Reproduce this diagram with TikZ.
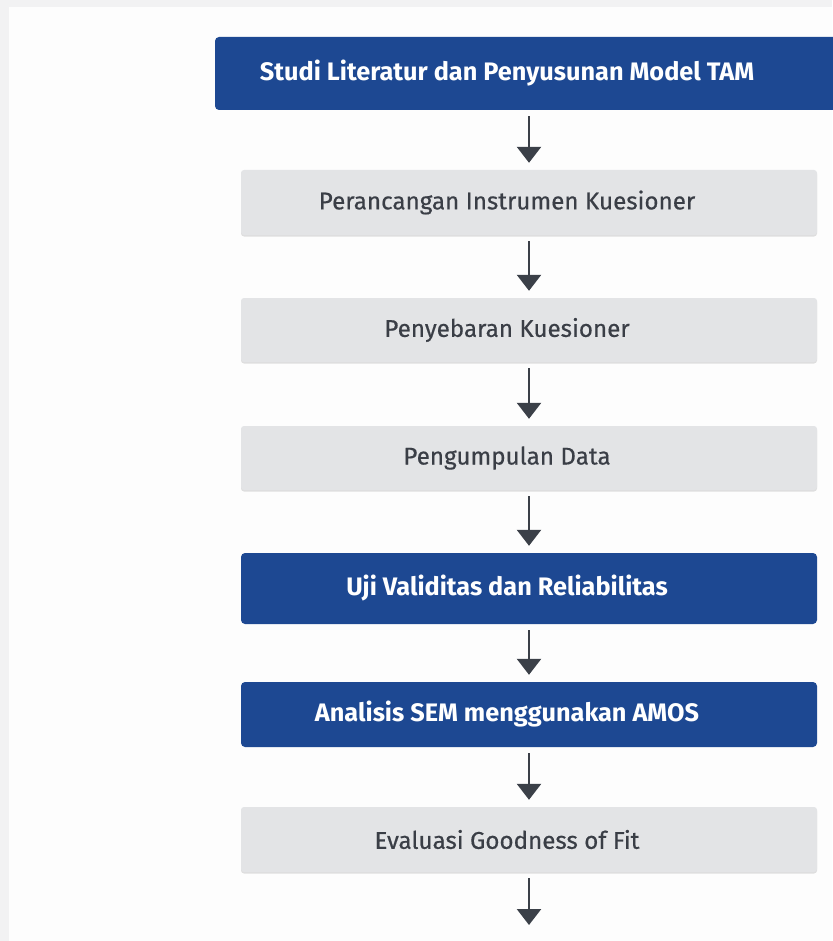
\documentclass[tikz,border=0pt]{standalone}
\usepackage{fontspec}
\setmainfont{Fira Sans}
\newfontfamily\greyfont{Fira Sans}[FakeBold=0.5]
\usepackage{tikz}
\usetikzlibrary{arrows.meta, shadows}

\definecolor{stepblue}{HTML}{1D4892}
\definecolor{stepgrey}{HTML}{E3E4E6}
\definecolor{steptext}{HTML}{3A3E46}
\definecolor{arrowgrey}{HTML}{3B4048}
\definecolor{pagegrey}{HTML}{F2F2F3}
\definecolor{pagewhite}{HTML}{FDFDFD}

\tikzset{
    box/.style={rectangle, minimum width=576pt, inner sep=0pt},
    bluetext/.style={text=white, xshift=-22pt, font=\fontsize{25.3}{29}\selectfont\bfseries},
    greytext/.style={text=steptext, xshift=-22pt, font=\fontsize{24.2}{28}\selectfont\greyfont},
    bluebox/.style={box, fill=stepblue, rounded corners=4pt},
    greybox/.style={box, fill=stepgrey, rounded corners=3pt,
        drop shadow={shadow xshift=0pt, shadow yshift=-1.5pt, fill=black, opacity=0.12}},
    flow/.style={draw=arrowgrey, line width=2.6pt, -{Triangle[width=24pt,length=16pt]},
        shorten <=6pt, shorten >=7pt}
}

\begin{document}
\begin{tikzpicture}[x=1pt, y=-1pt]
        \useasboundingbox (0,0) rectangle (832,941);
        \fill[pagegrey] (0,0) rectangle (832,941);
        \fill[pagewhite] (9,7) rectangle (832,941);

        \node[bluebox, minimum width=628pt, minimum height=73pt,
            label={[bluetext]center:Studi Literatur dan Penyusunan Model TAM}] (lit) at (529,73.5) {};
        \node[greybox, minimum height=65pt,
            label={[greytext]center:Perancangan Instrumen Kuesioner}] (instr) at (529,202.5) {};
        \node[greybox, minimum height=64pt,
            label={[greytext]center:Penyebaran Kuesioner}] (sebar) at (529,330) {};
        \node[greybox, minimum height=64pt,
            label={[greytext]center:Pengumpulan Data}] (data) at (529,458) {};
        \node[bluebox, minimum height=71pt,
            label={[bluetext]center:Uji Validitas dan Reliabilitas}] (uji) at (529,588.5) {};
        \node[bluebox, minimum height=65pt,
            label={[bluetext]center:Analisis SEM menggunakan AMOS}] (sem) at (529,714.5) {};
        \node[greybox, minimum height=65pt,
            label={[greytext]center:Evaluasi Goodness of Fit}] (gof) at (529,839.5) {};
        \coordinate (end) at (529,932);

        \draw[flow] (lit) -- (instr);
        \draw[flow] (instr) -- (sebar);
        \draw[flow] (sebar) -- (data);
        \draw[flow] (data) -- (uji);
        \draw[flow] (uji) -- (sem);
        \draw[flow] (sem) -- (gof);
        \draw[flow] (gof) -- (end);
    \end{tikzpicture}
\end{document}
